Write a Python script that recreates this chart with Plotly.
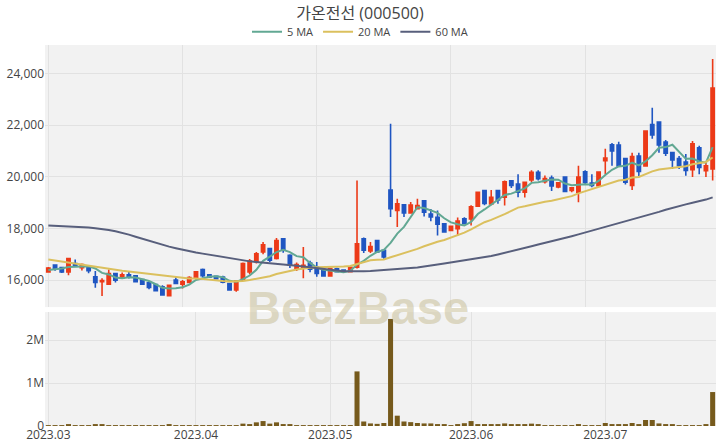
import numpy as np
import pandas as pd
import plotly.graph_objects as go

# ---------------- data ----------------
holidays = ["2023-05-01", "2023-05-05", "2023-05-29", "2023-06-06"]
dates = [d.strftime("%Y-%m-%d") for d in
         pd.bdate_range(start="2023-03-02", periods=100, freq="C", holidays=holidays)]

opens = [16320, 16580, 16490, 16320, 16640, 16480, 16510, 16130, 15940, 15840,
         16250, 16070, 16210, 16170, 16020, 15900, 15830, 15740, 15400, 16000,
         15840, 15910, 16100, 16410, 16210, 16150, 16120, 15870, 15620, 16000,
         16320, 16710, 17090, 17220, 16840, 17600, 16960, 16420, 16480, 16660,
         16510, 16410, 16160, 16440, 16390, 16330, 16500, 17600, 17130, 17530,
         17150, 19480, 18690, 18910, 18600, 18760, 19070, 18560, 18430, 18180,
         17920, 17990, 18370, 18370, 18860, 19460, 18950, 19460, 19210, 19840,
         19720, 19400, 19870, 20170, 19810, 19950, 19600, 19990, 19470, 19400,
         20190, 19750, 19650, 20620, 21230, 21220, 20700, 19660, 20800, 20420,
         22020, 22110, 21340, 20930, 20700, 20570, 20270, 21120, 20230, 20300]
highs = [16510, 16600, 16510, 16860, 16800, 16640, 16580, 16350, 16070, 16410,
         16280, 16290, 16320, 16200, 16050, 15960, 15860, 15800, 15830, 16120,
         16000, 16150, 16350, 16450, 16240, 16180, 16170, 15900, 16000, 16680,
         16820, 17090, 17470, 17250, 17630, 17620, 17000, 16680, 17280, 16750,
         16700, 16440, 16470, 16480, 16420, 16530, 19850, 17650, 17470, 17560,
         17180, 22050, 19150, 18940, 19020, 19150, 19100, 18750, 18690, 18200,
         18100, 18420, 18430, 18900, 19420, 19500, 19490, 19480, 19850, 19870,
         20100, 19800, 20250, 20250, 20050, 20050, 19780, 20020, 19600, 20420,
         20250, 20100, 20200, 21080, 21300, 21350, 20720, 20930, 20930, 21800,
         22670, 22150, 21420, 20960, 20800, 20880, 21380, 21200, 20550, 24550]
lows = [16290, 16360, 16280, 16190, 16520, 16370, 16270, 15700, 15390, 15810,
        15910, 16050, 16060, 15920, 15820, 15650, 15560, 15400, 15380, 15850,
        15680, 15880, 16080, 16100, 16080, 16030, 15880, 15590, 15550, 15990,
        16230, 16640, 17000, 16700, 16800, 17060, 16470, 16350, 16070, 16300,
        16130, 16130, 16140, 16300, 16300, 16300, 16450, 17050, 17050, 17050,
        16830, 18440, 18050, 18440, 18580, 18740, 18460, 18280, 17730, 17830,
        17900, 17730, 18150, 18110, 18850, 18900, 18900, 18950, 18890, 19560,
        19210, 19200, 19800, 19850, 19740, 19450, 19550, 19400, 19400, 19010,
        19700, 19590, 19620, 20100, 20420, 20380, 19700, 19490, 20030, 20400,
        21470, 20930, 20800, 20300, 20300, 20040, 19990, 20100, 19990, 19850]
closes = [16470, 16420, 16320, 16830, 16550, 16600, 16360, 15910, 15980, 16250,
          16000, 16210, 16110, 15940, 15840, 15720, 15590, 15430, 15800, 15870,
          15930, 16100, 16320, 16170, 16110, 16050, 15920, 15620, 15970, 16640,
          16740, 17020, 17370, 16770, 17530, 17160, 16580, 16600, 16570, 16420,
          16260, 16160, 16450, 16330, 16340, 16500, 17400, 17160, 17300, 17090,
          16900, 18760, 18950, 18600, 18900, 18880, 18630, 18440, 18160, 17860,
          18080, 18280, 18180, 18840, 19400, 18970, 19200, 19100, 19800, 19660,
          19400, 19780, 20170, 19920, 19930, 19640, 19760, 19430, 19570, 19990,
          19780, 19660, 20180, 20720, 21000, 20420, 19790, 20780, 20200, 21770,
          21620, 21230, 20910, 20650, 20430, 20240, 21270, 20360, 20420, 23430]
volumes = [15, 10, 10, 30, 12, 10, 8, 25, 28, 12,
           10, 8, 8, 10, 8, 8, 10, 12, 22, 10,
           8, 8, 8, 10, 8, 8, 8, 10, 12, 55,
           25, 85, 115, 55, 85, 45, 25, 15, 20, 12,
           10, 8, 10, 8, 8, 15, 1270, 105, 60, 50,
           70, 2490, 240, 105, 90, 70, 60, 60, 30, 25,
           20, 25, 65, 115, 40, 30, 30, 25, 60, 35,
           35, 40, 55, 25, 15, 15, 15, 15, 20, 45,
           20, 15, 15, 70, 45, 35, 30, 70, 40, 140,
           140, 60, 35, 25, 20, 20, 20, 20, 25, 790]  # thousands of shares

ma5_head = [16390, 16410, 16450, 16510]
ma20_head = [16800, 16760, 16720, 16680, 16640, 16600, 16560, 16500, 16460, 16420,
             16390, 16360, 16330, 16300, 16270, 16240, 16210, 16180, 16150]
ma60 = [18115, 18105, 18095, 18083, 18070, 18055, 18035, 18010, 17980, 17940,
        17890, 17830, 17760, 17680, 17600, 17510, 17430, 17360, 17295, 17235,
        17175, 17120, 17070, 17025, 16980, 16935, 16890, 16840, 16795, 16755,
        16725, 16700, 16680, 16660, 16640, 16620, 16590, 16560, 16525, 16490,
        16460, 16430, 16400, 16370, 16345, 16335, 16335, 16340, 16350, 16365,
        16385, 16400, 16420, 16440, 16465, 16490, 16520, 16555, 16600, 16640,
        16680, 16720, 16760, 16800, 16840, 16880, 16930, 16990, 17050, 17110,
        17170, 17240, 17310, 17380, 17440, 17500, 17560, 17630, 17700, 17770,
        17840, 17910, 17980, 18050, 18120, 18200, 18270, 18340, 18410, 18490,
        18560, 18640, 18720, 18800, 18870, 18930, 18990, 19050, 19115, 19200]

tick_dates = ["2023-03-02", "2023-04-03", "2023-05-02", "2023-06-02", "2023-07-03"]
tick_labels = ["2023.03", "2023.04", "2023.05", "2023.06", "2023.07"]

title_text = "가온전선 (000500)"

# ---------------- derived ----------------
c = pd.Series(closes, dtype=float)
ma5 = c.rolling(5).mean().to_numpy()
ma5[:4] = ma5_head
ma20 = c.rolling(20).mean().to_numpy()
ma20[:19] = ma20_head
vol = np.array(volumes, dtype=float) * 1000

UP = "#ec3a18"
DOWN = "#1f56c2"
GRID = "#e2e2e2"
BG = "#f2f2f2"
FONT = "Open Sans, Noto Sans CJK KR, sans-serif"

fig = go.Figure()
fig.add_trace(go.Candlestick(
    x=dates, open=opens, high=highs, low=lows, close=closes,
    increasing=dict(line=dict(color=UP, width=1.6), fillcolor=UP),
    decreasing=dict(line=dict(color=DOWN, width=1.6), fillcolor=DOWN),
    showlegend=False, xaxis="x", yaxis="y", hoverinfo="skip"))
fig.add_trace(go.Scatter(x=dates, y=ma5, mode="lines", name="5 MA",
                         line=dict(color="#62a893", width=2), xaxis="x", yaxis="y"))
fig.add_trace(go.Scatter(x=dates, y=ma20, mode="lines", name="20 MA",
                         line=dict(color="#dbc05e", width=2), xaxis="x", yaxis="y"))
fig.add_trace(go.Scatter(x=dates, y=ma60, mode="lines", name="60 MA",
                         line=dict(color="#585f7c", width=2), xaxis="x", yaxis="y"))
fig.add_trace(go.Bar(x=dates, y=vol, marker=dict(color="#765a1c", line=dict(width=0)),
                     showlegend=False, xaxis="x2", yaxis="y2", hoverinfo="skip"))

fig.update_layout(
    width=720, height=448,
    margin=dict(l=45, r=4, t=45, b=22, autoexpand=False),
    paper_bgcolor="white", plot_bgcolor=BG,
    font=dict(family=FONT, size=12, color="#444"),
    title=dict(text=title_text, x=0.5, xref="container", xanchor="center",
               y=0.969, yanchor="middle",
               font=dict(family=FONT, size=16, color="#444")),
    legend=dict(orientation="h", xref="container", x=0.5, xanchor="center",
                yref="container", y=0.929, yanchor="middle",
                font=dict(size=11, color="#444"), bgcolor="rgba(0,0,0,0)"),
    showlegend=True,
    bargap=0.25,
    xaxis=dict(type="category", domain=[0, 1], anchor="y", range=[-0.5, len(dates) - 0.5],
               rangeslider=dict(visible=False), showticklabels=False,
               tickmode="linear", tick0=0, dtick=20, automargin=False,
               showgrid=True, gridcolor=GRID, zeroline=False, showline=False),
    yaxis=dict(domain=[0.312, 1], anchor="x", range=[14955, 25095],
               tickmode="linear", tick0=0, dtick=2000, tickformat=",d",
               showgrid=True, gridcolor=GRID, zeroline=False, ticks="",
               automargin=False, tickfont=dict(size=12)),
    xaxis2=dict(type="category", domain=[0, 1], anchor="y2", range=[-0.5, len(dates) - 0.5],
                tickmode="array", tickvals=tick_dates, ticktext=tick_labels,
                showgrid=True, gridcolor=GRID, zeroline=False, showline=False,
                automargin=False, tickfont=dict(size=12), ticks=""),
    yaxis2=dict(domain=[0, 0.299], anchor="x2", range=[0, 2.65e6],
                tickmode="array", tickvals=[0, 1e6, 2e6], ticktext=["0", "1M", "2M"],
                showgrid=True, gridcolor=GRID, zeroline=False, ticks="",
                automargin=False, tickfont=dict(size=12)),
    annotations=[dict(text="<b>BeezBase</b>", xref="paper", yref="paper",
                      x=0.466, y=0.31, xanchor="center", yanchor="middle",
                      showarrow=False,
                      font=dict(family="Liberation Sans, Arial, sans-serif",
                                size=47, color="rgba(200,190,150,0.55)"))],
)

fig.write_html("out.html", config={"displayModeBar": False},
               post_script="document.body.style.margin='0px';document.body.style.overflow='hidden';")
